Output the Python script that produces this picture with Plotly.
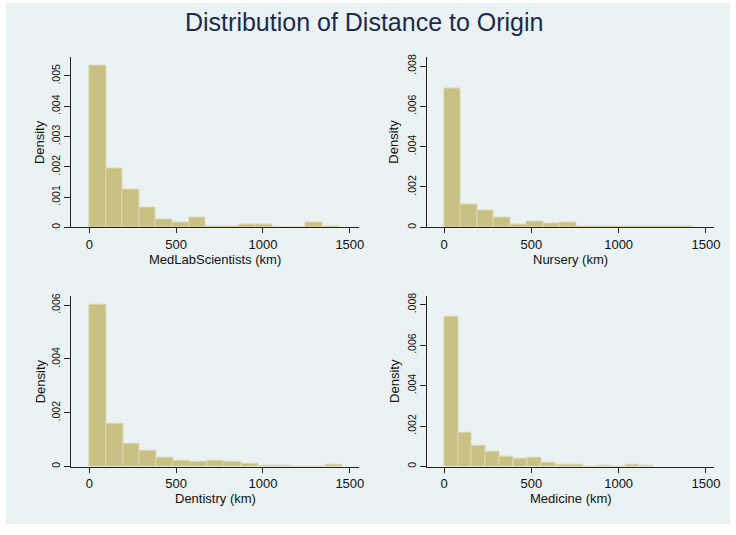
import plotly.graph_objects as go

# ---------------- data ----------------
title_text = "Distribution of Distance to Origin"
panel_titles = ["MedLabScientists (km)", "Nursery (km)", "Dentistry (km)", "Medicine (km)"]
y_title = "Density"

medlab_bin_start = 0.0
medlab_bin_width = 95.9
medlab_density = [0.00533, 0.00193, 0.00125, 0.00064, 0.00026, 0.00016, 0.00033,
                  0.00004, 0.00004, 0.00010, 0.00010, 0.0, 0.0, 0.00016, 0.00004]

nursery_bin_start = 0.0
nursery_bin_width = 94.7
nursery_density = [0.00690, 0.00115, 0.00084, 0.00049, 0.00015, 0.00030, 0.00020,
                   0.00025, 0.00003, 0.00003, 0.00003, 0.00003, 0.00003, 0.00003, 0.00003]

dentistry_bin_start = 0.0
dentistry_bin_width = 97.1
dentistry_density = [0.00600, 0.00160, 0.00084, 0.00057, 0.00034, 0.00023, 0.00016,
                     0.00023, 0.00017, 0.00010, 0.00004, 0.00004, 0.0, 0.0, 0.00006]

medicine_bin_start = 0.0
medicine_bin_width = 79.8
medicine_density = [0.00740, 0.00165, 0.00101, 0.00075, 0.00047, 0.00036, 0.00043,
                    0.00018, 0.00008, 0.00008, 0.0, 0.00003, 0.0, 0.00008, 0.00003]

x_tick_vals = [0, 500, 1000, 1500]
x_tick_text = ["0", "500", "1000", "1500"]
y_ticks_medlab = [0, 0.001, 0.002, 0.003, 0.004, 0.005]
y_text_medlab = ["0", ".001", ".002", ".003", ".004", ".005"]
y_ticks_008 = [0, 0.002, 0.004, 0.006, 0.008]
y_text_008 = ["0", ".002", ".004", ".006", ".008"]
y_ticks_006 = [0, 0.002, 0.004, 0.006]
y_text_006 = ["0", ".002", ".004", ".006"]

# ---------------- styling ----------------
W, H = 736, 535
FONT = "Liberation Sans, Arial, sans-serif"
BG = "#EAF2F3"
BAR_FILL = "#C9C184"
BAR_LINE = "#DCD6AA"
AXIS = "#222222"

panels = [
    dict(start=medlab_bin_start, width=medlab_bin_width, dens=medlab_density,
         xr=[-102.8, 1553], yr=[0, 0.00564], yt=y_ticks_medlab, ytt=y_text_medlab,
         px=(72, 362), py=(54, 226), ytx=40.5),
    dict(start=nursery_bin_start, width=nursery_bin_width, dens=nursery_density,
         xr=[-95, 1547], yr=[0, 0.00847], yt=y_ticks_008, ytt=y_text_008,
         px=(431, 720), py=(54, 226), ytx=397),
    dict(start=dentistry_bin_start, width=dentistry_bin_width, dens=dentistry_density,
         xr=[-102.8, 1553], yr=[0, 0.00635], yt=y_ticks_006, ytt=y_text_006,
         px=(72, 362), py=(295, 467), ytx=40.5),
    dict(start=medicine_bin_start, width=medicine_bin_width, dens=medicine_density,
         xr=[-95, 1547], yr=[0, 0.00844], yt=y_ticks_008, ytt=y_text_008,
         px=(431, 720), py=(295, 467), ytx=397),
]

fig = go.Figure()
layout = {}
annotations = [dict(text=title_text, xref="paper", yref="paper", x=366.7 / W,
                    y=1 - 19.5 / H, xanchor="center", yanchor="middle", showarrow=False,
                    font=dict(family=FONT, size=25, color="#1C2A4E"))]
for i, p in enumerate(panels):
    n = i + 1
    xa = "x" if n == 1 else f"x{n}"
    ya = "y" if n == 1 else f"y{n}"
    centers = [p["start"] + p["width"] * (k + 0.5) for k in range(len(p["dens"]))]
    fig.add_trace(go.Bar(
        x=centers, y=p["dens"], width=[p["width"]] * len(p["dens"]),
        marker=dict(color=BAR_FILL, line=dict(color=BAR_LINE, width=1)),
        xaxis=xa, yaxis=ya, showlegend=False, hoverinfo="x+y",
    ))
    xkey = "xaxis" if n == 1 else f"xaxis{n}"
    ykey = "yaxis" if n == 1 else f"yaxis{n}"
    layout[xkey] = dict(
        domain=[p["px"][0] / W, p["px"][1] / W], anchor=ya, range=p["xr"],
        tickvals=x_tick_vals, ticktext=x_tick_text, ticks="outside", ticklen=5,
        tickcolor=AXIS, showline=True, linecolor=AXIS, linewidth=1,
        showgrid=False, zeroline=False, ticklabelstandoff=0,
        tickfont=dict(family=FONT, size=13, color="#111"),
    )
    layout[ykey] = dict(
        domain=[1 - p["py"][1] / H, 1 - p["py"][0] / H], anchor=xa, range=p["yr"],
        tickvals=p["yt"], ticktext=p["ytt"], ticks="outside", ticklen=6,
        tickcolor=AXIS, showline=True, linecolor=AXIS, linewidth=1,
        showgrid=True, gridcolor=BG, gridwidth=1, zeroline=False,
        tickangle=-90, ticklabelstandoff=0,
        tickfont=dict(family=FONT, size=10.5, color="#111"),
    )
    # axis titles
    annotations.append(dict(
        text=panel_titles[i], xref="paper", yref="paper",
        x=(p["px"][0] + p["px"][1]) / 2 / W, y=1 - (p["py"][1] + 32) / H,
        xanchor="center", yanchor="middle", showarrow=False,
        font=dict(family=FONT, size=13, color="#111")))
    annotations.append(dict(
        text=y_title, xref="paper", yref="paper", textangle=-90,
        x=p["ytx"] / W, y=1 - (p["py"][0] + p["py"][1]) / 2 / H,
        xanchor="center", yanchor="middle", showarrow=False,
        font=dict(family=FONT, size=13, color="#111")))

fig.update_layout(
    width=W, height=H, margin=dict(l=0, r=0, t=0, b=0),
    paper_bgcolor="white", plot_bgcolor="white", bargap=0,
    shapes=[dict(type="rect", xref="paper", yref="paper", x0=6 / W, x1=1,
                 y0=1 - 525 / H, y1=1, fillcolor=BG, line=dict(width=0), layer="below")],
    annotations=annotations,
    **layout,
)

fig.write_html("out.html", config={"displayModeBar": False},
               post_script="document.body.style.margin='0';document.body.style.overflow='hidden';")
